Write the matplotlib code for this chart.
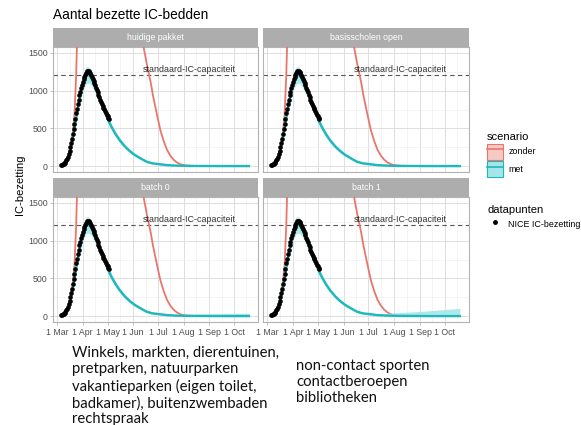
import numpy as np
import matplotlib.pyplot as plt
import matplotlib.dates as mdates
from matplotlib.patches import Patch
from matplotlib.lines import Line2D

plt.rcParams['font.family'] = 'Liberation Sans'

# day numbers are counted from 1 March 2020
start = np.datetime64("2020-03-01")

panel_titles = ["huidige pakket", "basisscholen open", "batch 0", "batch 1"]

# NICE IC-bezetting, daily from 6 March to 3 May
obs_first_day = 5
obs_values = [18, 22, 28, 36, 46, 60, 78, 100, 128, 162, 205, 252, 305, 365, 428,
              495, 562, 630, 698, 762, 822, 880, 935, 985, 1030, 1075,
              1115, 1150, 1180, 1210, 1235, 1252, 1260, 1255, 1245, 1228, 1205,
              1180, 1152, 1122, 1095, 1068, 1040, 1012, 975, 945, 912, 880, 852,
              825, 800, 776, 752, 728, 705, 683,
              660, 640, 620]

# scenario "zonder"
zonder_days = [5, 9, 13, 17, 19, 21, 23, 25, 27, 35, 50, 65, 80, 92, 98, 102, 105,
               109, 113, 116, 119, 122, 125, 129, 133, 137, 141, 145, 149, 152,
               156, 163, 180, 232]
zonder_values = [18, 50, 130, 300, 450, 680, 1200, 2000, 2800, 6000, 10000, 9500,
                 7000, 3600, 2400, 1850, 1550, 1320, 1118, 930, 774, 620, 473, 330,
                 215, 140, 86, 50, 28, 18, 11, 6, 4, 3]

# scenario "met"
met_days = [5, 9, 13, 17, 21, 25, 29, 32, 35, 38, 41, 45, 49, 53, 57, 61, 66, 71,
            76, 82, 88, 94, 101, 108, 115, 124, 133, 145, 160, 180, 200, 220, 232]
met_mid = [18, 48, 110, 260, 500, 770, 1000, 1130, 1200, 1210, 1170, 1075, 965,
           855, 750, 625, 515, 420, 340, 262, 200, 150, 105, 62, 40, 28, 16, 9,
           5, 4, 3, 3, 3]
met_lo = [13, 40, 95, 230, 450, 700, 900, 1020, 1090, 1100, 1075, 995, 900, 800,
          700, 580, 475, 385, 310, 236, 178, 130, 88, 48, 28, 18, 8, 3, 0, 0, 0,
          0, 0]
met_hi = [23, 56, 125, 290, 555, 850, 1100, 1240, 1310, 1315, 1265, 1155, 1030,
          910, 800, 670, 555, 455, 370, 288, 222, 170, 122, 76, 52, 38, 24, 15,
          10, 7, 6, 6, 6]
met_hi_batch0 = met_hi[:26] + [26, 25, 28, 32, 36, 40, 42]
met_hi_batch1 = met_hi[:26] + [28, 40, 50, 62, 78, 95, 105]

capacity = 1200

red = "#E8766C"
red_fill = "#F6C9C4"
cyan = "#1CB8BC"
cyan_fill = "#A6E6E8"

W, H = 581, 425


def box(x0, y0, x1, y1):
    return [x0 / W, 1 - y1 / H, (x1 - x0) / W, (y1 - y0) / H]


fig = plt.figure(figsize=(W / 100, H / 100), dpi=100)

cols = [(53, 258), (263, 469)]
rows = [(47, 172), (197, 322)]
strips = [(28, 47), (178, 197)]

to_date = lambda d: start + np.array(d).astype("timedelta64[D]")
obs_dates = to_date(np.arange(obs_first_day, obs_first_day + len(obs_values)))
his = [met_hi, met_hi, met_hi_batch0, met_hi_batch1]

for i, title in enumerate(panel_titles):
    r, c = divmod(i, 2)
    x0, x1 = cols[c]
    y0, y1 = rows[r]
    ax = fig.add_axes(box(x0, y0, x1, y1))
    sa = fig.add_axes(box(x0, strips[r][0], x1, strips[r][1]))
    sa.set_facecolor("#ADADAD")
    sa.set_xticks([])
    sa.set_yticks([])
    for s in sa.spines.values():
        s.set_visible(False)
    sa.text(0.5, 0.5, title, color="white", fontsize=6.3, ha="center", va="center",
            transform=sa.transAxes)

    ax.plot(to_date(zonder_days), zonder_values, color=red, lw=1.3, zorder=3)
    ax.fill_between(to_date(met_days), met_lo, his[i], color=cyan_fill, lw=0,
                    alpha=0.9, zorder=3)
    ax.plot(to_date(met_days), met_mid, color=cyan, lw=1.7, zorder=4)
    ax.scatter(obs_dates, obs_values, s=11, color="black", lw=0, zorder=5)

    ax.axhline(capacity, color="#555555", lw=0.8, ls=(0, (4, 3)), zorder=2)
    ax.text(to_date(160), capacity + 15, "standaard-IC-capaciteit", fontsize=6.4,
            color="#333333", ha="center", va="bottom", zorder=6)

    ax.set_xlim(np.datetime64("2020-02-25"), np.datetime64("2020-10-30"))
    ax.set_ylim(-75, 1575)
    ax.xaxis.set_major_locator(mdates.MonthLocator())
    ax.xaxis.set_minor_locator(mdates.MonthLocator(bymonthday=16))
    ax.xaxis.set_major_formatter(mdates.DateFormatter("%-d %b"))
    ax.set_yticks([0, 500, 1000, 1500])
    ax.set_yticks([250, 750, 1250], minor=True)
    ax.grid(which="major", color="#DEDEDE", lw=0.7)
    ax.grid(which="minor", color="#EDEDED", lw=0.4)
    ax.set_axisbelow(True)
    ax.tick_params(which="major", length=2.5, width=0.6, color="#B3B3B3",
                   labelcolor="#4D4D4D", labelsize=6.3, pad=1.5)
    ax.tick_params(which="minor", length=0)
    for s in ax.spines.values():
        s.set_color("#B3B3B3")
        s.set_linewidth(0.8)
    if c == 1:
        ax.tick_params(axis="y", labelleft=False, length=0)
    if r == 0:
        ax.tick_params(axis="x", labelbottom=False, length=0)

fig.text(53 / W, 1 - 15 / H, "Aantal bezette IC-bedden", fontsize=9.8,
         va="center", ha="left")
fig.text(20 / W, 1 - 185 / H, "IC-bezetting", fontsize=8, rotation=90,
         va="center", ha="center")

leg_style = dict(loc="upper left", frameon=False, fontsize=6.4, title_fontsize=8,
                 handlelength=1.8, handleheight=2.35, labelspacing=0.2,
                 handletextpad=0.6, borderpad=0, borderaxespad=0, alignment="left")
fig.legend(
    handles=[(Patch(fc=red_fill, ec=red, lw=0.8), Line2D([], [], color=red, lw=1.2)),
             (Patch(fc=cyan_fill, ec=cyan, lw=0.8), Line2D([], [], color=cyan, lw=1.2))],
    labels=["zonder", "met"], title="scenario",
    bbox_to_anchor=(487 / W, 1 - 132 / H), **leg_style)
fig.legend(
    handles=[Line2D([], [], ls="none", marker="o", color="black", ms=2.5)],
    labels=["NICE IC-bezetting"], title="datapunten",
    bbox_to_anchor=(487 / W, 1 - 205 / H), **leg_style)

fig.text(72 / W, 1 - 346 / H,
         "Winkels, markten, dierentuinen,\npretparken, natuurparken\n"
         "vakantieparken (eigen toilet,\nbadkamer), buitenzwembaden\nrechtspraak",
         fontsize=10.7, family="Lato", color="#111111", va="top", ha="left",
         linespacing=1.2)
fig.text(296 / W, 1 - 359 / H,
         "non-contact sporten\ncontactberoepen\nbibliotheken",
         fontsize=10.7, family="Lato", color="#111111", va="top", ha="left",
         linespacing=1.2)

fig.savefig("out.png", dpi=100)
